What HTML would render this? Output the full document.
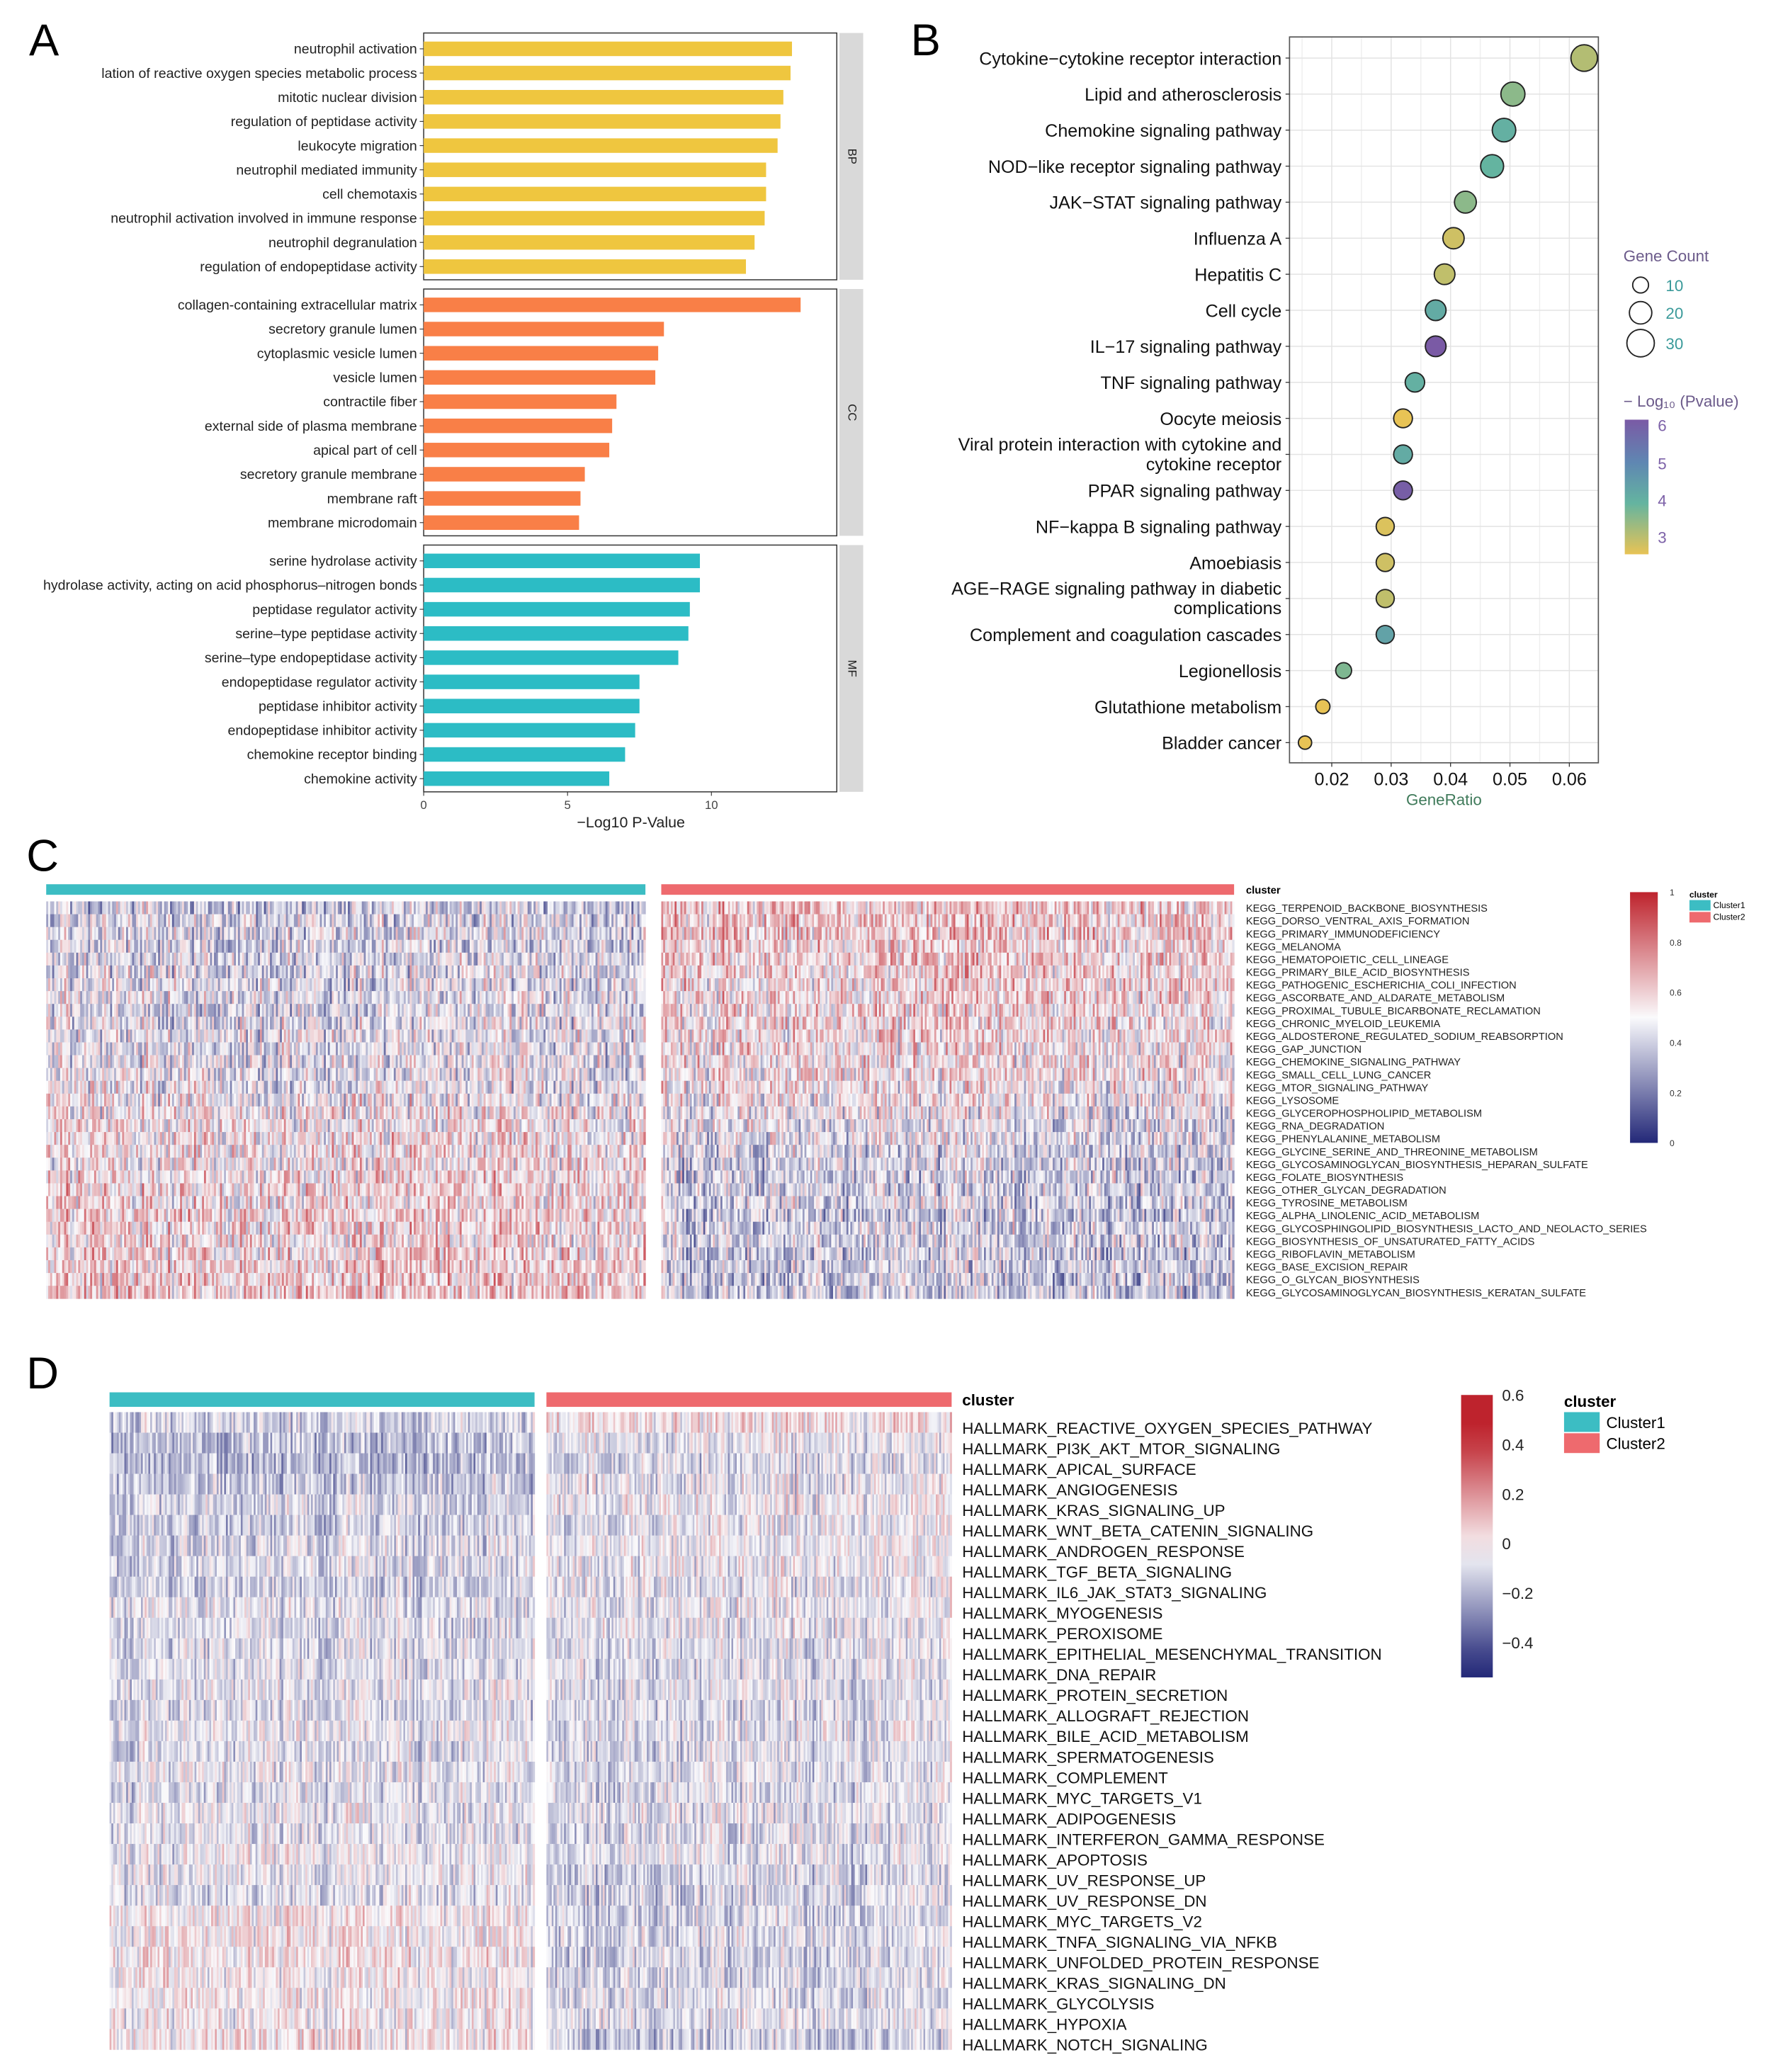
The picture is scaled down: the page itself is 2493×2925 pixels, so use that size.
<!DOCTYPE html>
<html><head><meta charset="utf-8">
<style>
html,body{margin:0;padding:0;background:#fff;}
svg{display:block;}
text{font-family:"Liberation Sans",Arial,sans-serif;}
</style></head>
<body>
<svg id="fig" xmlns="http://www.w3.org/2000/svg" width="2493" height="2925" viewBox="0 0 1338 1570" preserveAspectRatio="none">
<rect width="1340" height="1572" fill="#fff"/>
<g id="pa"></g>
<g id="pb"></g>
<g id="pc"></g>
<g id="pd"></g>
</svg>
<script>
// ---------- Panel A data ----------
const bpTerms=["neutrophil activation","lation of reactive oxygen species metabolic process","mitotic nuclear division","regulation of peptidase activity","leukocyte migration","neutrophil mediated immunity","cell chemotaxis","neutrophil activation involved in immune response","neutrophil degranulation","regulation of endopeptidase activity"];
const bpValues=[12.8,12.75,12.5,12.4,12.3,11.9,11.9,11.85,11.5,11.2];
const ccTerms=["collagen-containing extracellular matrix","secretory granule lumen","cytoplasmic vesicle lumen","vesicle lumen","contractile fiber","external side of plasma membrane","apical part of cell","secretory granule membrane","membrane raft","membrane microdomain"];
const ccValues=[13.1,8.35,8.15,8.05,6.7,6.55,6.45,5.6,5.45,5.4];
const mfTerms=["serine hydrolase activity","hydrolase activity, acting on acid phosphorus\u2013nitrogen bonds","peptidase regulator activity","serine\u2013type peptidase activity","serine\u2013type endopeptidase activity","endopeptidase regulator activity","peptidase inhibitor activity","endopeptidase inhibitor activity","chemokine receptor binding","chemokine activity"];
const mfValues=[9.6,9.6,9.25,9.2,8.85,7.5,7.5,7.35,7.0,6.45];
const aTicks=[0,5,10];

// ---------- Panel B data ----------
const keggTerms=["Cytokine\u2212cytokine receptor interaction","Lipid and atherosclerosis","Chemokine signaling pathway","NOD\u2212like receptor signaling pathway","JAK\u2212STAT signaling pathway","Influenza A","Hepatitis C","Cell cycle","IL\u221217 signaling pathway","TNF signaling pathway","Oocyte meiosis","Viral protein interaction with cytokine and|cytokine receptor","PPAR signaling pathway","NF\u2212kappa B signaling pathway","Amoebiasis","AGE\u2212RAGE signaling pathway in diabetic|complications","Complement and coagulation cascades","Legionellosis","Glutathione metabolism","Bladder cancer"];
const geneRatio=[0.0625,0.0505,0.049,0.047,0.0425,0.0405,0.039,0.0375,0.0375,0.034,0.032,0.032,0.032,0.029,0.029,0.029,0.029,0.022,0.0185,0.0155];
const geneCount=[28,23,22,21,19,18,17,17,17,15,14,14,14,13,13,13,13,10,8,7];
const logP=[3.4,3.7,4.1,4.0,3.7,3.2,3.3,4.2,6.0,4.1,3.0,4.2,5.9,3.1,3.2,3.3,4.4,3.8,3.0,3.0];
const bTicks=[0.02,0.03,0.04,0.05,0.06];

// ---------- Panel C data ----------
const cRows=["KEGG_TERPENOID_BACKBONE_BIOSYNTHESIS","KEGG_DORSO_VENTRAL_AXIS_FORMATION","KEGG_PRIMARY_IMMUNODEFICIENCY","KEGG_MELANOMA","KEGG_HEMATOPOIETIC_CELL_LINEAGE","KEGG_PRIMARY_BILE_ACID_BIOSYNTHESIS","KEGG_PATHOGENIC_ESCHERICHIA_COLI_INFECTION","KEGG_ASCORBATE_AND_ALDARATE_METABOLISM","KEGG_PROXIMAL_TUBULE_BICARBONATE_RECLAMATION","KEGG_CHRONIC_MYELOID_LEUKEMIA","KEGG_ALDOSTERONE_REGULATED_SODIUM_REABSORPTION","KEGG_GAP_JUNCTION","KEGG_CHEMOKINE_SIGNALING_PATHWAY","KEGG_SMALL_CELL_LUNG_CANCER","KEGG_MTOR_SIGNALING_PATHWAY","KEGG_LYSOSOME","KEGG_GLYCEROPHOSPHOLIPID_METABOLISM","KEGG_RNA_DEGRADATION","KEGG_PHENYLALANINE_METABOLISM","KEGG_GLYCINE_SERINE_AND_THREONINE_METABOLISM","KEGG_GLYCOSAMINOGLYCAN_BIOSYNTHESIS_HEPARAN_SULFATE","KEGG_FOLATE_BIOSYNTHESIS","KEGG_OTHER_GLYCAN_DEGRADATION","KEGG_TYROSINE_METABOLISM","KEGG_ALPHA_LINOLENIC_ACID_METABOLISM","KEGG_GLYCOSPHINGOLIPID_BIOSYNTHESIS_LACTO_AND_NEOLACTO_SERIES","KEGG_BIOSYNTHESIS_OF_UNSATURATED_FATTY_ACIDS","KEGG_RIBOFLAVIN_METABOLISM","KEGG_BASE_EXCISION_REPAIR","KEGG_O_GLYCAN_BIOSYNTHESIS","KEGG_GLYCOSAMINOGLYCAN_BIOSYNTHESIS_KERATAN_SULFATE"];
const cMean1=[0.4,0.42,0.44,0.42,0.44,0.45,0.44,0.46,0.45,0.46,0.46,0.45,0.47,0.47,0.48,0.5,0.52,0.53,0.54,0.55,0.54,0.56,0.58,0.56,0.58,0.58,0.56,0.58,0.58,0.6,0.6];
const cMean2=[0.6,0.6,0.6,0.58,0.6,0.58,0.58,0.57,0.57,0.57,0.56,0.55,0.54,0.54,0.53,0.51,0.47,0.46,0.45,0.43,0.43,0.42,0.42,0.42,0.4,0.42,0.42,0.4,0.4,0.4,0.4];
const cLegendTicks=[0,0.2,0.4,0.6,0.8,1];

// ---------- Panel D data ----------
const dRows=["HALLMARK_REACTIVE_OXYGEN_SPECIES_PATHWAY","HALLMARK_PI3K_AKT_MTOR_SIGNALING","HALLMARK_APICAL_SURFACE","HALLMARK_ANGIOGENESIS","HALLMARK_KRAS_SIGNALING_UP","HALLMARK_WNT_BETA_CATENIN_SIGNALING","HALLMARK_ANDROGEN_RESPONSE","HALLMARK_TGF_BETA_SIGNALING","HALLMARK_IL6_JAK_STAT3_SIGNALING","HALLMARK_MYOGENESIS","HALLMARK_PEROXISOME","HALLMARK_EPITHELIAL_MESENCHYMAL_TRANSITION","HALLMARK_DNA_REPAIR","HALLMARK_PROTEIN_SECRETION","HALLMARK_ALLOGRAFT_REJECTION","HALLMARK_BILE_ACID_METABOLISM","HALLMARK_SPERMATOGENESIS","HALLMARK_COMPLEMENT","HALLMARK_MYC_TARGETS_V1","HALLMARK_ADIPOGENESIS","HALLMARK_INTERFERON_GAMMA_RESPONSE","HALLMARK_APOPTOSIS","HALLMARK_UV_RESPONSE_UP","HALLMARK_UV_RESPONSE_DN","HALLMARK_MYC_TARGETS_V2","HALLMARK_TNFA_SIGNALING_VIA_NFKB","HALLMARK_UNFOLDED_PROTEIN_RESPONSE","HALLMARK_KRAS_SIGNALING_DN","HALLMARK_GLYCOLYSIS","HALLMARK_HYPOXIA","HALLMARK_NOTCH_SIGNALING"];
const dMean1=[-0.08,-0.12,-0.14,-0.1,-0.07,-0.09,-0.06,-0.06,-0.08,-0.05,-0.06,-0.06,-0.05,-0.04,-0.06,-0.03,-0.05,-0.03,-0.06,-0.03,-0.04,-0.02,-0.03,-0.05,0.02,0.02,0.03,0.02,0.02,0.01,0.04];
const dMean2=[0.04,-0.04,-0.07,-0.04,-0.02,-0.04,-0.02,-0.03,-0.04,-0.03,-0.04,-0.05,-0.05,-0.05,-0.06,-0.05,-0.06,-0.06,-0.06,-0.05,-0.06,-0.06,-0.08,-0.08,-0.08,-0.07,-0.08,-0.08,-0.07,-0.05,-0.1];
const dLegendTicks=[-0.4,-0.2,0,0.2,0.4,0.6];

const NS="http://www.w3.org/2000/svg";
function mk(parent,tag,attrs,txt){const e=document.createElementNS(NS,tag);for(const k in attrs)e.setAttribute(k,attrs[k]);if(txt!==undefined)e.textContent=txt;parent.appendChild(e);return e;}

// ===== Panel A =====
(function(){
const g=document.getElementById('pa');
const t=mk(g,'text',{x:22,y:42,'font-size':34},'A');


const x0=321,x1=634;const xs=v=>x0+v*21.8;
const facets=[["BP",bpTerms,bpValues,"#EFC63F",25,212],["CC",ccTerms,ccValues,"#F97F47",219,406],["MF",mfTerms,mfValues,"#2CBCC5",413,600]];
facets.forEach(([nm,terms,vals,col,y0,y1])=>{
  const r=mk(g,'rect',{x:x0,y:y0,width:x1-x0,height:y1-y0,fill:'#fff',stroke:'#333','stroke-width':0.8});
  
  
  const s=mk(g,'rect',{x:x1+2,y:y0,width:18,height:y1-y0,fill:'#d9d9d9'});
  
  
  const sl=mk(g,'text',{x:x1+11,y:(y0+y1)/2,'font-size':9,'text-anchor':'middle',transform:`rotate(90 ${x1+11} ${(y0+y1)/2})`,'dominant-baseline':'middle',fill:'#222'},nm);
  
  
  const step=(y1-y0-22)/9;
  terms.forEach((term,i)=>{
    const yc=y0+12+i*step;
    const b=mk(g,'rect',{x:x0,y:yc-5.5,width:xs(vals[i])-x0,height:11,fill:col});
    
    
    mk(g,'line',{x1:x0-3,x2:x0,y1:yc,y2:yc,stroke:'#333','stroke-width':0.6});
    const l=mk(g,'text',{x:x0-5,y:yc+3.6,'font-size':10.5,'text-anchor':'end',fill:'#222'},term);
    
    
  });
});
aTicks.forEach(v=>{
  mk(g,'line',{x1:xs(v),x2:xs(v),y1:600,y2:603,stroke:'#333','stroke-width':0.6});
  const l=mk(g,'text',{x:xs(v),y:613,'font-size':9,'text-anchor':'middle',fill:'#444'},v);
  
  
});
const xt=mk(g,'text',{x:478,y:627,'font-size':11.5,'text-anchor':'middle',fill:'#222'},'\u2212Log10 P-Value');


})();

// ===== Panel B =====
(function(){
const g=document.getElementById('pb');
const t=mk(g,'text',{x:690,y:42,'font-size':34},'B');


const X0=977,X1=1211,Y0=28,Y1=578;
const xs=v=>1009+(v-0.02)*4500;
const ys=i=>44+i*27.3;
const frame=mk(g,'rect',{x:X0,y:Y0,width:X1-X0,height:Y1-Y0,fill:'#fff'});


for(let v=0.015;v<0.066;v+=0.005){const x=xs(v);if(x>X0&&x<X1)mk(g,'line',{x1:x,x2:x,y1:Y0,y2:Y1,stroke:Math.abs(v*100-Math.round(v*100))<0.01?'#e3e3e3':'#efefef','stroke-width':0.8});}
keggTerms.forEach((_,i)=>mk(g,'line',{x1:X0,x2:X1,y1:ys(i),y2:ys(i),stroke:'#e3e3e3','stroke-width':0.8}));
mk(g,'rect',{x:X0,y:Y0,width:X1-X0,height:Y1-Y0,fill:'none',stroke:'#555','stroke-width':0.9});
function pcol(p){
  const stops=[[3,[232,195,85]],[4,[100,180,160]],[5,[95,135,178]],[6,[122,90,165]]];
  p=Math.max(3,Math.min(6,p));
  for(let k=0;k<3;k++){const[a,ca]=stops[k],[b,cb]=stops[k+1];if(p<=b){const f=(p-a)/(b-a);return `rgb(${ca.map((c,j)=>Math.round(c+(cb[j]-c)*f)).join(',')})`;}}
}
const rs=c=>1.9*Math.sqrt(c);
keggTerms.forEach((term,i)=>{
  const y=ys(i);
  mk(g,'line',{x1:X0-3,x2:X0,y1:y,y2:y,stroke:'#333','stroke-width':0.7});
  const parts=term.split('|');
  parts.forEach((p,j)=>{
    const off=parts.length===1?5:(j===0?-3:12);
    const l=mk(g,'text',{x:X0-6,y:y+off,'font-size':13.5,'text-anchor':'end',fill:'#111'},p);
    
    
  });
  const c=mk(g,'circle',{cx:xs(geneRatio[i]),cy:y,r:rs(geneCount[i]),fill:pcol(logP[i]),stroke:'#222','stroke-width':1});
  
  
});
bTicks.forEach(v=>{
  mk(g,'line',{x1:xs(v),x2:xs(v),y1:Y1,y2:Y1+3,stroke:'#333','stroke-width':0.7});
  const l=mk(g,'text',{x:xs(v),y:Y1+17,'font-size':13.5,'text-anchor':'middle',fill:'#111'},v);
  
  
});
const xt=mk(g,'text',{x:1094,y:610,'font-size':12,'text-anchor':'middle',fill:'#3f7a5a'},'GeneRatio');


const gt=mk(g,'text',{x:1230,y:198,'font-size':12,fill:'#6b5a8a'},'Gene Count');


[[10,216],[20,237],[30,260]].forEach(([c,y])=>{
  const ci=mk(g,'circle',{cx:1243,cy:y,r:rs(c),fill:'#fff',stroke:'#222','stroke-width':1});
  
  
  const l=mk(g,'text',{x:1262,y:y+4.5,'font-size':12,fill:'#3a9a9a'},c);
  
  
});
const ct=mk(g,'text',{x:1230,y:308,'font-size':12,fill:'#6b5a8a'},'\u2212 Log\u2081\u2080 (Pvalue)');


const defs=mk(g,'defs',{});
const lg=mk(defs,'linearGradient',{id:'pg',x1:0,y1:1,x2:0,y2:0});
mk(lg,'stop',{offset:'0',"stop-color":'rgb(232,195,85)'});
mk(lg,'stop',{offset:'0.38',"stop-color":'rgb(100,180,160)'});
mk(lg,'stop',{offset:'0.68',"stop-color":'rgb(95,135,178)'});
mk(lg,'stop',{offset:'1',"stop-color":'rgb(122,90,165)'});
const cb=mk(g,'rect',{x:1231,y:318,width:18,height:102,fill:'url(#pg)'});


[[6,322],[5,351],[4,379],[3,407]].forEach(([v,y])=>{
  const l=mk(g,'text',{x:1256,y:y+4.5,'font-size':12,fill:'#7d62a8'},v);
  
  
});
})();

// ===== heatmap helper =====
function hash(a,b,s){let h=(a*374761393+b*668265263+s*2147483647)|0;h=(h^(h>>>13))*1274126177|0;h=h^(h>>>16);return ((h>>>0)%10000)/10000;}
function drawHeat(g,rows,m1,m2,geom,colfn,amp,seed){
  const {x1a,x1b,x2a,x2b,y0,y1,ncol}=geom;
  const rh=(y1-y0)/rows.length;
  [[x1a,x1b,m1,0],[x2a,x2b,m2,1]].forEach(([xa,xb,mean,ci])=>{
    const cw=(xb-xa)/ncol;
    for(let c=0;c<ncol;c++){
      const ce=(hash(c,ci,seed+7)-0.5)*amp*0.6;
      for(let r=0;r<rows.length;r++){
        const v=mean[r]+ce+(hash(c,r+ci*100,seed)-0.5)*amp;
        const e=document.createElementNS(NS,'rect');
        e.setAttribute('x',(xa+c*cw).toFixed(2));e.setAttribute('y',(y0+r*rh).toFixed(2));
        e.setAttribute('width',(cw+0.3).toFixed(2));e.setAttribute('height',(rh+0.2).toFixed(2));
        e.setAttribute('fill',colfn(v));
        
        
        g.appendChild(e);
      }
    }
  });
}
function divCol(t){
  t=Math.max(0,Math.min(1,t));
  const lo=[35,40,120],mid=[250,250,252],hi=[190,35,45];
  let a,b,f;if(t<0.5){a=lo;b=mid;f=t/0.5;}else{a=mid;b=hi;f=(t-0.5)/0.5;}
  return `rgb(${a.map((c,j)=>Math.round(c+(b[j]-c)*f)).join(',')})`;
}

// ===== Panel C =====
(function(){
const g=document.getElementById('pc');
const t=mk(g,'text',{x:20,y:660,'font-size':34},'C');


const a1=mk(g,'rect',{x:35,y:670,width:454,height:8,fill:'#3CBDC3'});

const a2=mk(g,'rect',{x:501,y:670,width:434,height:8,fill:'#EE6A6E'});

const cl=mk(g,'text',{x:944,y:677,'font-size':8,'font-weight':'bold'},'cluster');

drawHeat(g,cRows,cMean1,cMean2,{x1a:35,x1b:489,x2a:501,x2b:935,y0:683,y1:984,ncol:300},v=>divCol(v),0.4,11);
const rh=(984-683)/cRows.length;
cRows.forEach((r,i)=>{const l=mk(g,'text',{x:944,y:683+i*rh+rh/2+3,'font-size':7.85,fill:'#222'},r);
  });
const defs=mk(g,'defs',{});
const lg=mk(defs,'linearGradient',{id:'cg',x1:0,y1:1,x2:0,y2:0});
for(let k=0;k<=10;k++)mk(lg,'stop',{offset:k/10,'stop-color':divCol(k/10)});
const cb=mk(g,'rect',{x:1235,y:676,width:21,height:190,fill:'url(#cg)'});

cLegendTicks.forEach(v=>{const l=mk(g,'text',{x:1265,y:866-v*190+2.5,'font-size':6.5,fill:'#333'},v);
  });
const lt=mk(g,'text',{x:1280,y:680,'font-size':6.5,'font-weight':'bold'},'cluster');
mk(g,'rect',{x:1280,y:682,width:16,height:8,fill:'#3CBDC3'});
mk(g,'rect',{x:1280,y:691,width:16,height:8,fill:'#EE6A6E'});
[['Cluster1',688],['Cluster2',697]].forEach(([s,y])=>{const l=mk(g,'text',{x:1298,y:y,'font-size':6.5},s);});
})();

// ===== Panel D =====
(function(){
const g=document.getElementById('pd');
const t=mk(g,'text',{x:20,y:1052,'font-size':34},'D');


const a1=mk(g,'rect',{x:83,y:1055,width:322,height:11,fill:'#3CBDC3'});

const a2=mk(g,'rect',{x:414,y:1055,width:307,height:11,fill:'#EE6A6E'});

const cl=mk(g,'text',{x:729,y:1065,'font-size':12,'font-weight':'bold'},'cluster');

const dc=v=>divCol((v+0.45)/0.9);
drawHeat(g,dRows,dMean1,dMean2,{x1a:83,x1b:405,x2a:414,x2b:721,y0:1070,y1:1553,ncol:230},dc,0.26,23);
const rh=(1553-1070)/dRows.length;
dRows.forEach((r,i)=>{const l=mk(g,'text',{x:729,y:1070+i*rh+rh/2+8.5,'font-size':12,fill:'#111'},r);
  });
const defs=mk(g,'defs',{});
const lg=mk(defs,'linearGradient',{id:'dg',x1:0,y1:1,x2:0,y2:0});
for(let k=0;k<=10;k++){const v=-0.48+k*0.108;mk(lg,'stop',{offset:k/10,'stop-color':dc(v)});}
const cb=mk(g,'rect',{x:1107,y:1057,width:24,height:214,fill:'url(#dg)'});

dLegendTicks.forEach(v=>{const y=1170-v*187.5;const l=mk(g,'text',{x:1138,y:y+4,'font-size':12,fill:'#222'},v===0?'0':(v<0?'\u2212'+Math.abs(v):v));
  });
const lt=mk(g,'text',{x:1185,y:1066,'font-size':12,'font-weight':'bold'},'cluster');
mk(g,'rect',{x:1185,y:1070,width:27,height:15,fill:'#3CBDC3'});
mk(g,'rect',{x:1185,y:1086,width:27,height:15,fill:'#EE6A6E'});
[['Cluster1',1082],['Cluster2',1098]].forEach(([s,y])=>{const l=mk(g,'text',{x:1217,y:y,'font-size':12},s);});
})();
</script>
</body></html>
